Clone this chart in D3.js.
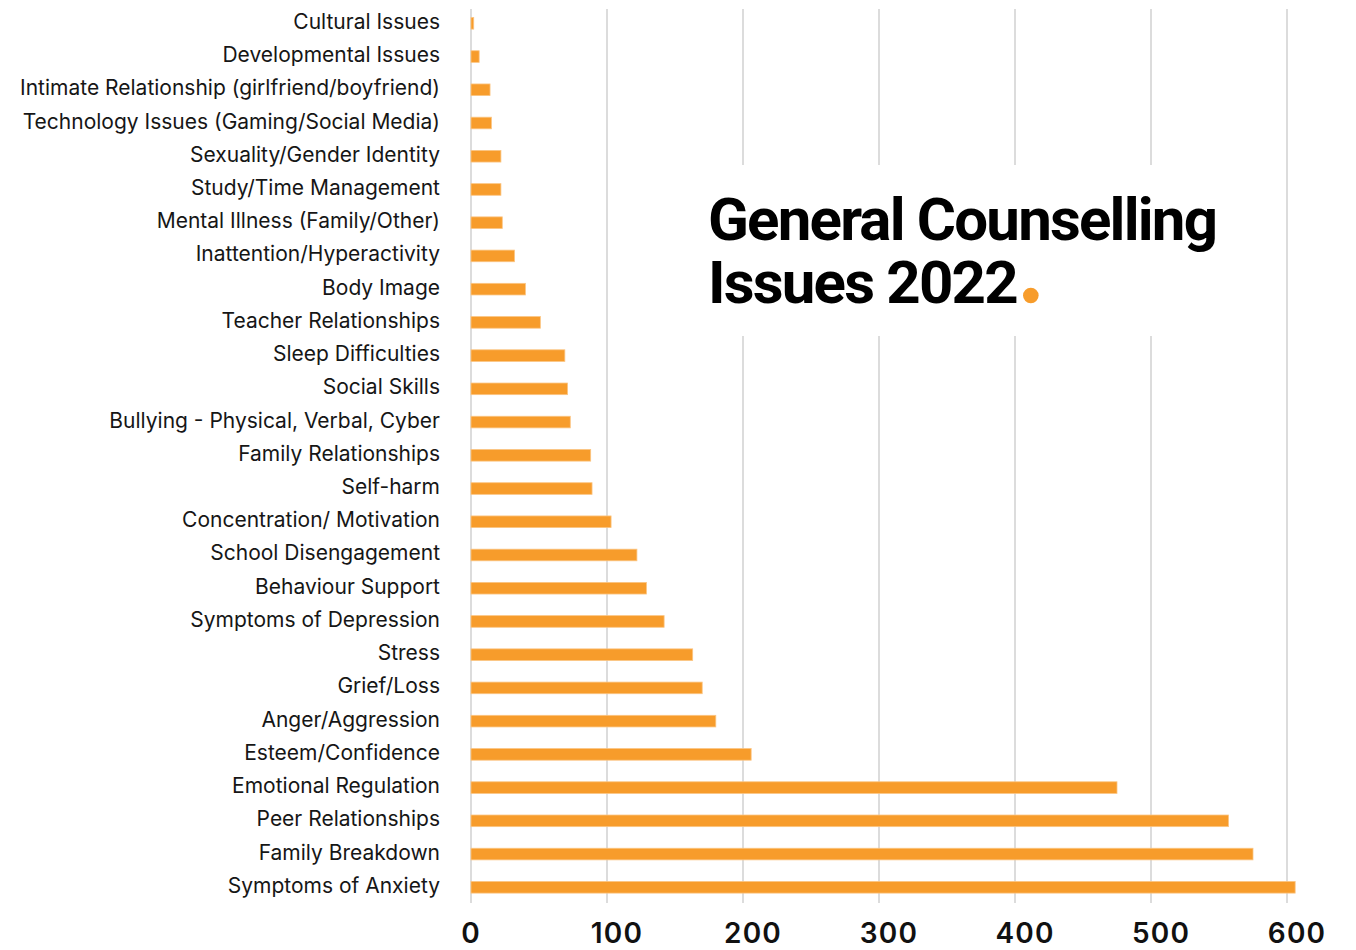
<!DOCTYPE html>
<html>
<head>
<meta charset="utf-8">
<script src="https://cdn.jsdelivr.net/npm/d3@7"></script>
<style>
  html, body { margin: 0; padding: 0; background: #fff; }
  svg { display: block; }
</style>
</head>
<body>
<svg id="chart" width="1356" height="950"></svg>
<script>
// Issue categories, top to bottom
const categories = [
  "Cultural Issues",
  "Developmental Issues",
  "Intimate Relationship (girlfriend/boyfriend)",
  "Technology Issues (Gaming/Social Media)",
  "Sexuality/Gender Identity",
  "Study/Time Management",
  "Mental Illness (Family/Other)",
  "Inattention/Hyperactivity",
  "Body Image",
  "Teacher Relationships",
  "Sleep Difficulties",
  "Social Skills",
  "Bullying - Physical, Verbal, Cyber",
  "Family Relationships",
  "Self-harm",
  "Concentration/ Motivation",
  "School Disengagement",
  "Behaviour Support",
  "Symptoms of Depression",
  "Stress",
  "Grief/Loss",
  "Anger/Aggression",
  "Esteem/Confidence",
  "Emotional Regulation",
  "Peer Relationships",
  "Family Breakdown",
  "Symptoms of Anxiety"
];

// Number of cases per issue
const counts = [
  2, 6, 14, 15, 22, 22, 23, 32, 40, 51, 69, 71, 73, 88, 89,
  103, 122, 129, 142, 163, 170, 180, 206, 475, 557, 575, 606
];

const xTicks = [0, 100, 200, 300, 400, 500, 600];
const titleLines = ["General Counselling", "Issues 2022"];

const svg = d3.select("#chart");

const x = d3.scaleLinear().domain([0, 600]).range([471, 1287]);
const y = d3.scaleBand()
  .domain(categories)
  .range([6.7, 903.9])
  .paddingInner(0.65)
  .paddingOuter(0.325);

// Vertical gridlines
svg.append("g")
  .selectAll("line")
  .data(xTicks)
  .join("line")
  .attr("x1", d => x(d))
  .attr("x2", d => x(d))
  .attr("y1", 9)
  .attr("y2", 903)
  .attr("stroke", "#dcdcdc")
  .attr("stroke-width", 2);

// Bars
svg.append("g")
  .selectAll("rect")
  .data(categories.map((c, i) => ({ c, v: counts[i] })))
  .join("rect")
  .attr("x", x(0))
  .attr("y", d => y(d.c))
  .attr("width", d => x(d.v) - x(0))
  .attr("height", y.bandwidth())
  .attr("fill", "#f79c2b")
  .attr("stroke", "#fbc583")
  .attr("stroke-width", 0.8);

// Category labels
svg.append("g")
  .selectAll("text")
  .data(categories)
  .join("text")
  .attr("x", 440)
  .attr("y", d => y(d) + y.bandwidth() / 2 - 2)
  .attr("text-anchor", "end")
  .attr("dominant-baseline", "central")
  .attr("font-family", "Inter, 'Noto Sans', sans-serif")
  .attr("font-size", 21)
  .attr("fill", "#161616")
  .text(d => d);

// X axis tick labels
svg.append("g")
  .selectAll("text")
  .data(xTicks)
  .join("text")
  .attr("x", d => x(d))
  .attr("dx", d => d === 0 ? 0 : 10)
  .attr("y", 943)
  .attr("text-anchor", "middle")
  .attr("font-family", "Inter, 'Noto Sans', sans-serif")
  .attr("font-size", 28)
  .attr("font-weight", 600)
  .attr("letter-spacing", 1.2)
  .attr("fill", "#111")
  .text(d => d);

// Title block on a white panel
svg.append("rect")
  .attr("x", 690)
  .attr("y", 165)
  .attr("width", 540)
  .attr("height", 171)
  .attr("fill", "#fff");

const title = svg.append("text")
  .attr("font-family", "Roboto, Inter, sans-serif")
  .attr("font-weight", 700)
  .attr("font-size", 60)
  .attr("letter-spacing", -1.8)
  .attr("fill", "#000");

title.append("tspan").attr("x", 708).attr("y", 240).text(titleLines[0]);
const line2 = title.append("tspan").attr("x", 708).attr("y", 303).text(titleLines[1]);

// Orange full stop after the year
const len2 = line2.node().getComputedTextLength();
svg.append("circle")
  .attr("cx", 708 + len2 + 14)
  .attr("cy", 295.5)
  .attr("r", 7.8)
  .attr("fill", "#f79c2b");
</script>
</body>
</html>
